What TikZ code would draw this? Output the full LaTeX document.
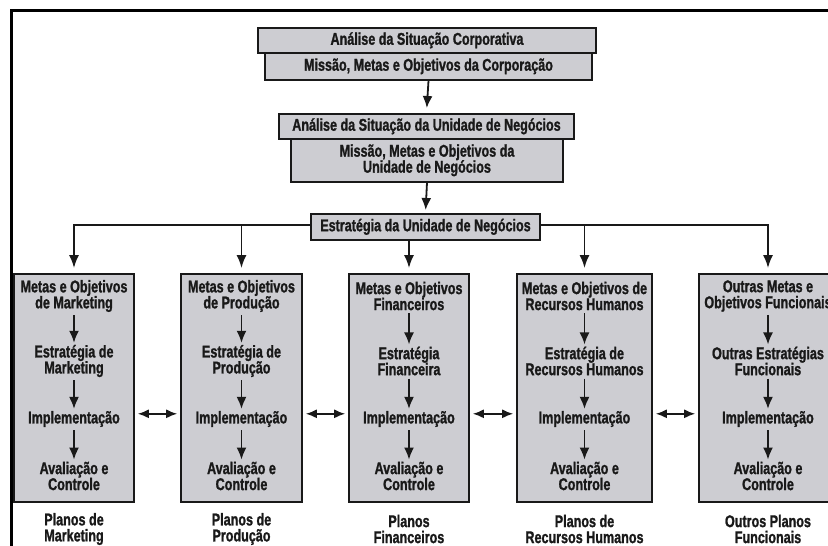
\documentclass[tikz,border=0pt]{standalone}
\usepackage{fontspec}
\setmainfont{Liberation Sans}[FakeStretch=0.74, BoldFeatures={FakeBold=1.2}]
\usetikzlibrary{arrows.meta}
\definecolor{boxgray}{RGB}{205,205,210}
\definecolor{ink}{RGB}{25,25,25}
\begin{document}
\begin{tikzpicture}[x=1pt,y=-1pt,
  font=\fontsize{17}{16}\selectfont\bfseries,
  panel/.style={draw=ink, line width=1.6pt, fill=boxgray, inner sep=0pt, anchor=north, text=ink},
  label/.style={align=center, inner sep=0pt, text=ink},
  flow/.style={draw=ink, line width=1.8pt, -{Latex[length=12pt,width=10pt]}, shorten <=3pt, shorten >=2pt},
  drop/.style={draw=ink, line width=1.6pt, -{Latex[length=13pt,width=10pt]}, shorten >=5pt},
  link/.style={draw=ink, line width=1.6pt, {Latex[length=11pt,width=9pt]}-{Latex[length=11pt,width=9pt]}, shorten <=3pt, shorten >=3pt}]
\useasboundingbox (0,0) rectangle (828,546);
\fill[white] (0,0) rectangle (828,546);
\draw[line width=3pt] (11.3,546) -- (11.3,10.5) -- (828,10.5);

% corporate level
\node[panel, minimum width=338pt, minimum height=25pt] (corpA) at (427,27) {Análise da Situação Corporativa};
\node[panel, minimum width=327pt, minimum height=27pt] (corpB) at (428.5,52) {Missão, Metas e Objetivos da Corporação};

% business unit level
\node[panel, minimum width=295pt, minimum height=25pt] (unitA) at (426.5,113) {Análise da Situação da Unidade de Negócios};
\node[panel, minimum width=272pt, minimum height=43pt, align=center] (unitB) at (427,138) {Missão, Metas e Objetivos da\\Unidade de Negócios};
\node[panel, minimum width=229pt, minimum height=26pt] (strat) at (425.5,213) {Estratégia da Unidade de Negócios};

\draw[flow, shorten <=0pt, shorten >=5pt] (corpB.south) -- (unitA.north);
\draw[flow, shorten <=0pt, shorten >=3pt] (unitB.south) -- (strat.north);

% functional areas
\foreach \i/\x/\w/\g/\s/\p in {
  1/74/120/{Metas e Objetivos\\de Marketing}/{Estratégia de\\Marketing}/{Planos de\\Marketing},
  2/241.5/121/{Metas e Objetivos\\de Produção}/{Estratégia de\\Produção}/{Planos de\\Produção},
  3/409/120/{Metas e Objetivos\\Financeiros}/{Estratégia\\Financeira}/{Planos\\Financeiros},
  4/584.5/135/{Metas e Objetivos de\\Recursos Humanos}/{Estratégia de\\Recursos Humanos}/{Planos de\\Recursos Humanos},
  5/768/138/{Outras Metas e\\Objetivos Funcionais}/{Outras Estratégias\\Funcionais}/{Outros Planos\\Funcionais}}{
  \node[panel, minimum width=\w pt, minimum height=228pt] (b\i) at (\x,273) {};
  \node[label] (g\i) at (\x,296) {\g};
  \node[label] (s\i) at (\x,361) {\s};
  \node[label] (m\i) at (\x,419) {Implementação};
  \node[label] (e\i) at (\x,476) {Avaliação e\\Controle};
  \node[label] (p\i) at (\x,529) {\p};
  \draw[flow] (g\i) -- (s\i);
  \draw[flow] (s\i) -- (m\i);
  \draw[flow] (m\i) -- (e\i);
}

% distribution of the unit strategy
\draw[drop] ([yshift=2pt]strat.west) -| (b1.north);
\draw[drop] ([yshift=2pt]strat.west -| b2.north) -- (b2.north);
\draw[drop] (strat.south -| b3.north) -- (b3.north);
\draw[drop] ([yshift=2pt]strat.east -| b4.north) -- (b4.north);
\draw[drop] ([yshift=2pt]strat.east) -| (b5.north);

% links between the functional plans
\draw[link] ([yshift=-26pt]b1.east) -- ([yshift=-26pt]b2.west);
\draw[link] ([yshift=-26pt]b2.east) -- ([yshift=-26pt]b3.west);
\draw[link] ([yshift=-26pt]b3.east) -- ([yshift=-26pt]b4.west);
\draw[link] ([yshift=-26pt]b4.east) -- ([yshift=-26pt]b5.west);
\end{tikzpicture}
\end{document}
